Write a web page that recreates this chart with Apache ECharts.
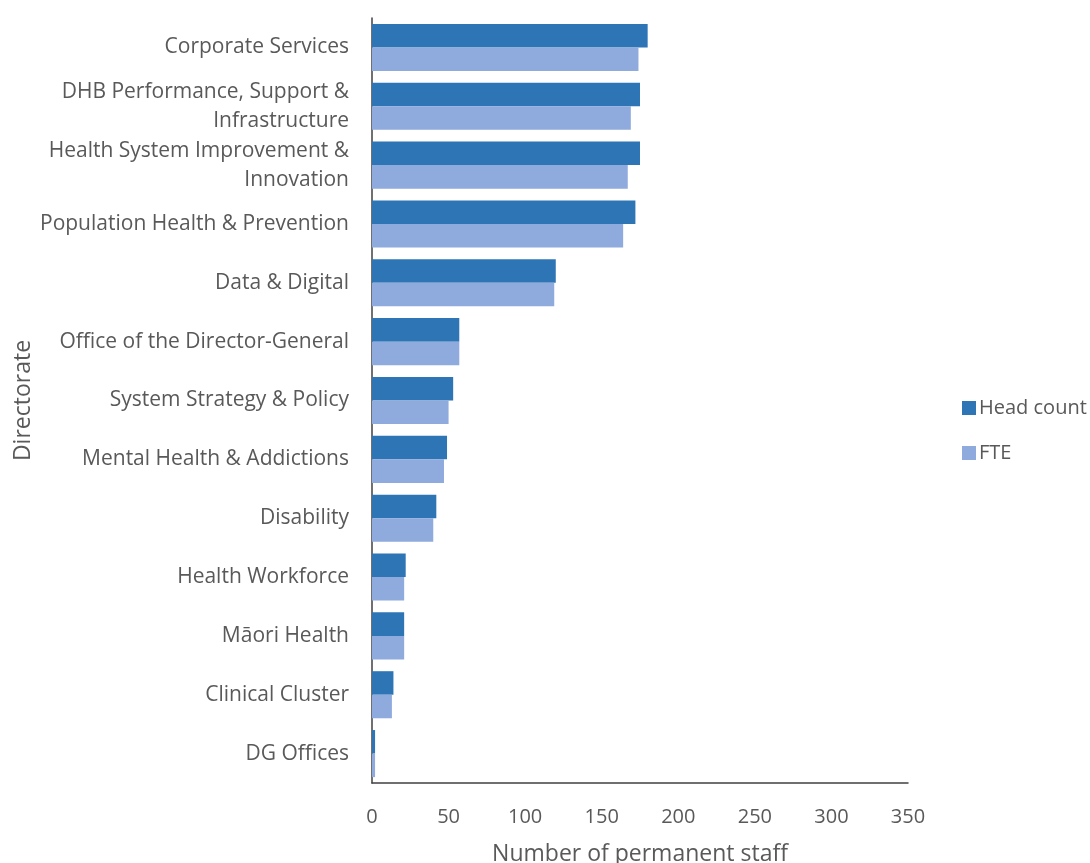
<!DOCTYPE html>
<html>
<head>
<meta charset="utf-8">
<script src="https://cdn.jsdelivr.net/npm/echarts@6/dist/echarts.min.js"></script>
<style>html,body{margin:0;padding:0;background:#fff}#c{width:1090px;height:863px}</style>
</head>
<body>
<div id="c"></div>
<script>
const categories = [
  "Corporate Services",
  "DHB Performance, Support & Infrastructure",
  "Health System Improvement & Innovation",
  "Population Health & Prevention",
  "Data & Digital",
  "Office of the Director-General",
  "System Strategy & Policy",
  "Mental Health & Addictions",
  "Disability",
  "Health Workforce",
  "Māori Health",
  "Clinical Cluster",
  "DG Offices"
];
const headCount = [180, 175, 175, 172, 120, 57, 53, 49, 42, 22, 21, 14, 2];
const fte = [174, 169, 167, 164, 119, 57, 50, 47, 40, 21, 21, 13, 2];
const xTicks = [0, 350, 50];

const font = "'Open Sans', sans-serif";
const txt = "#595959";
const chart = echarts.init(document.getElementById('c'));
chart.setOption({
  animation: false,
  textStyle: { fontFamily: font },
  grid: { left: 372, right: 182, top: 18, bottom: 80, containLabel: false, outerBoundsMode: 'none' },
  legend: {
    orient: 'vertical', left: 957, top: 393,
    itemWidth: 14, itemHeight: 14, itemGap: 25,
    icon: 'rect',
    textStyle: { fontFamily: font, fontSize: 20, color: txt, padding: [0, 0, 0, -2] },
    data: ['Head count', 'FTE']
  },
  xAxis: {
    type: 'value', min: xTicks[0], max: xTicks[1], interval: xTicks[2],
    name: 'Number of permanent staff', nameLocation: 'middle', nameGap: 60,
    nameTextStyle: { fontFamily: font, fontSize: 23, color: txt },
    axisLine: { show: true, lineStyle: { color: '#404040', width: 1.5 } },
    axisTick: { show: false },
    splitLine: { show: false },
    axisLabel: { fontFamily: font, fontSize: 20, color: txt, margin: 24 }
  },
  yAxis: {
    type: 'category', data: categories, inverse: true,
    name: 'Directorate', nameLocation: 'middle', nameGap: 337, nameRotate: 90,
    nameTextStyle: { fontFamily: font, fontSize: 23, color: txt },
    axisLine: { show: true, lineStyle: { color: '#404040', width: 1.5 } },
    axisTick: { show: false },
    axisLabel: {
      fontFamily: font, fontSize: 21, color: txt, margin: 23, lineHeight: 29,
      align: 'right', padding: [3, 0, 0, 0],
      formatter: v => v.length > 31 ? v.replace('& ', '&\n') : v
    }
  },
  series: [
    { name: 'Head count', type: 'bar', data: headCount, barGap: '0%', barCategoryGap: '20%',
      itemStyle: { color: '#2E75B6' } },
    { name: 'FTE', type: 'bar', data: fte, barGap: '0%', barCategoryGap: '20%',
      itemStyle: { color: '#8FAADC' } }
  ]
});
</script>
</body>
</html>
